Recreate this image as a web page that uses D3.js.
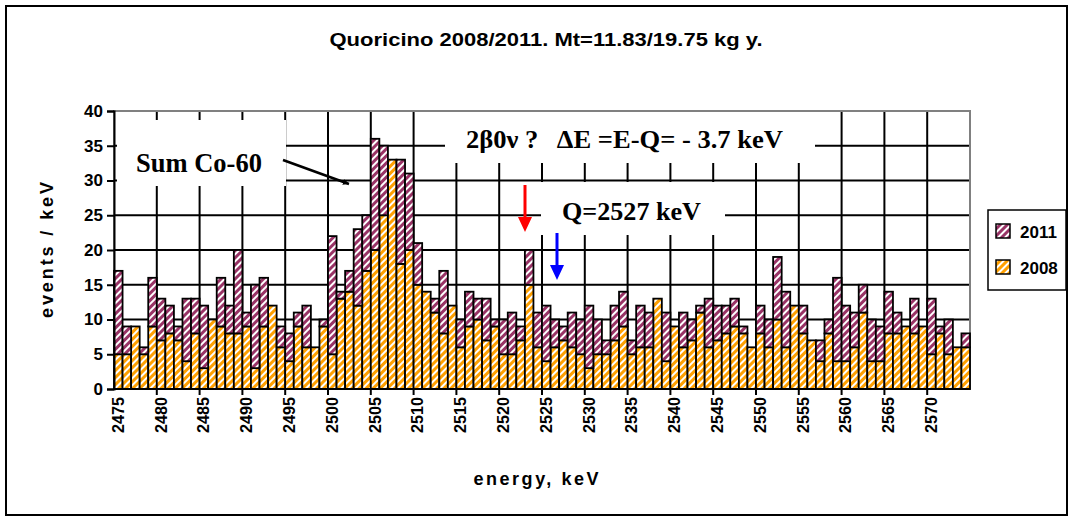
<!DOCTYPE html>
<html>
<head>
<meta charset="utf-8">
<script src="https://cdn.jsdelivr.net/npm/d3@7"></script>
<style>
  body { margin: 0; background: #fff; }
  svg { display: block; }
  .axis-label { font-family: "Liberation Sans", Arial, sans-serif; font-weight: bold; }
  .note { font-family: "Liberation Serif", "Times New Roman", serif; font-weight: bold; }
</style>
</head>
<body>
<svg width="1074" height="520"></svg>
<script>
// dados (contagens por keV)
const energies = d3.range(2475, 2575);
const counts2008 = [
  5, 5, 9, 5, 9, 7, 8, 7, 4, 8, 3, 10, 9, 8, 8, 9, 3, 9, 12, 6,
  4, 9, 6, 6, 9, 5, 13, 14, 12, 17, 20, 25, 33, 18, 20, 15, 14, 11, 8, 12,
  6, 9, 10, 7, 9, 5, 5, 7, 15, 6, 4, 6, 7, 6, 5, 3, 5, 5, 7, 9,
  5, 6, 6, 13, 4, 9, 6, 7, 11, 6, 7, 8, 9, 8, 6, 8, 6, 10, 6, 12,
  8, 7, 4, 8, 4, 4, 6, 11, 4, 4, 8, 8, 9, 8, 9, 5, 8, 5, 6, 6
];
const totals = [
  17, 9, 9, 6, 16, 13, 12, 9, 13, 13, 12, 10, 16, 12, 20, 11, 15, 16, 12, 9,
  8, 11, 12, 6, 10, 22, 14, 17, 23, 25, 36, 35, 33, 33, 31, 21, 14, 13, 17, 12,
  10, 14, 13, 13, 10, 10, 11, 9, 20, 11, 12, 10, 9, 11, 10, 12, 10, 7, 12, 14,
  7, 12, 11, 13, 11, 9, 11, 10, 12, 13, 12, 12, 13, 9, 6, 12, 10, 19, 14, 12,
  12, 7, 7, 10, 16, 12, 11, 15, 10, 9, 14, 11, 9, 13, 9, 13, 9, 10, 6, 8
];
const counts2011 = totals.map((t, i) => t - counts2008[i]);
const yTicks = [0, 5, 10, 15, 20, 25, 30, 35, 40];
const seriesKeys = ["2008", "2011"];
const legendKeys = ["2011", "2008"];

const svg = d3.select("svg");
const plot = { left: 114, right: 970, top: 111, bottom: 389 };

// padrões hachurados (estilo excel)
const defs = svg.append("defs");
function hatch(id, color) {
  const p = defs.append("pattern")
    .attr("id", id)
    .attr("patternUnits", "userSpaceOnUse")
    .attr("width", 5)
    .attr("height", 5)
    .attr("patternTransform", "rotate(45)");
  p.append("rect").attr("width", 5).attr("height", 5).attr("fill", color);
  p.append("rect").attr("x", 0).attr("width", 2).attr("height", 5).attr("fill", "#fff");
}
hatch("h2008", "#ffa000");
hatch("h2011", "#993366");
const fills = { "2008": "url(#h2008)", "2011": "url(#h2011)" };

defs.append("marker")
  .attr("id", "arrowBlack")
  .attr("viewBox", "0 -5 10 10")
  .attr("refX", 10).attr("refY", 0)
  .attr("markerWidth", 6).attr("markerHeight", 6)
  .attr("markerUnits", "userSpaceOnUse")
  .attr("orient", "auto")
  .append("path").attr("d", "M0,-5L10,0L0,5Z").attr("fill", "#000");

// moldura externa
svg.append("rect")
  .attr("x", 6).attr("y", 6).attr("width", 1061).attr("height", 509)
  .attr("fill", "none").attr("stroke", "#000").attr("stroke-width", 2);

// escalas
const x = d3.scaleBand().domain(energies).range([plot.left, plot.right]).padding(0);
const y = d3.scaleLinear().domain([0, 40]).range([plot.bottom, plot.top]);

// linhas de grade horizontais
svg.append("g").selectAll("line")
  .data(yTicks.filter(d => d > 0 && d < 40))
  .enter().append("line")
  .attr("x1", plot.left).attr("x2", plot.right)
  .attr("y1", d => y(d)).attr("y2", d => y(d))
  .attr("stroke", "#000").attr("stroke-width", 2);

// linhas de grade verticais a cada 5 categorias
const gridCats = energies.filter((e, i) => i > 0 && i % 5 === 0);
svg.append("g").selectAll("line")
  .data(gridCats)
  .enter().append("line")
  .attr("x1", d => x(d)).attr("x2", d => x(d))
  .attr("y1", plot.top).attr("y2", plot.bottom + 6)
  .attr("stroke", "#000").attr("stroke-width", 2);

// borda da área do gráfico
svg.append("rect")
  .attr("x", plot.left).attr("y", plot.top)
  .attr("width", plot.right - plot.left).attr("height", plot.bottom - plot.top)
  .attr("fill", "none").attr("stroke", "#808080").attr("stroke-width", 2);

// barras empilhadas
const table = energies.map((e, i) => ({ energy: e, "2008": counts2008[i], "2011": counts2011[i] }));
const stacked = d3.stack().keys(seriesKeys)(table);
svg.append("g").selectAll("g")
  .data(stacked)
  .enter().append("g")
  .attr("fill", d => fills[d.key])
  .selectAll("rect")
  .data(d => d.filter(s => s[1] > s[0]))
  .enter().append("rect")
  .attr("x", d => x(d.data.energy))
  .attr("y", d => y(d[1]))
  .attr("width", x.bandwidth())
  .attr("height", d => y(d[0]) - y(d[1]))
  .attr("stroke", "#000")
  .attr("stroke-width", 1.8);

// eixos
const yAxis = svg.append("g")
  .attr("transform", `translate(${plot.left},0)`)
  .call(d3.axisLeft(y).tickValues(yTicks).tickSize(7).tickPadding(4));
yAxis.select(".domain").attr("stroke", "#000").attr("stroke-width", 2);
yAxis.selectAll(".tick line").attr("stroke", "#000").attr("stroke-width", 2);
yAxis.selectAll("text")
  .attr("class", "axis-label")
  .attr("font-size", 17).attr("fill", "#000");

svg.append("line")
  .attr("x1", plot.left).attr("x2", plot.right)
  .attr("y1", plot.bottom).attr("y2", plot.bottom)
  .attr("stroke", "#000").attr("stroke-width", 2);

svg.append("g").selectAll("text")
  .data(energies.filter((e, i) => i % 5 === 0))
  .enter().append("text")
  .attr("class", "axis-label")
  .attr("font-size", 16)
  .attr("text-anchor", "end")
  .attr("textLength", 36)
  .attr("lengthAdjust", "spacingAndGlyphs")
  .attr("transform", d => `translate(${x(d) + x.bandwidth() / 2 + 5.5},${plot.bottom + 8}) rotate(-90)`)
  .text(d => d);

svg.append("text")
  .attr("class", "axis-label")
  .attr("font-size", 18)
  .attr("text-anchor", "middle")
  .attr("textLength", 136)
  .attr("lengthAdjust", "spacing")
  .attr("transform", `translate(53,${(plot.top + plot.bottom) / 2}) rotate(-90)`)
  .text("events / keV");

svg.append("text")
  .attr("class", "axis-label")
  .attr("font-size", 18)
  .attr("text-anchor", "middle")
  .attr("textLength", 125)
  .attr("lengthAdjust", "spacing")
  .attr("x", 536).attr("y", 485)
  .text("energy, keV");

// título
svg.append("text")
  .attr("class", "axis-label")
  .attr("font-size", 19)
  .attr("text-anchor", "middle")
  .attr("textLength", 433)
  .attr("lengthAdjust", "spacingAndGlyphs")
  .attr("x", 546).attr("y", 46)
  .text("Quoricino 2008/2011. Mt=11.83/19.75 kg y.");

// legenda
const legend = svg.append("g");
legend.append("rect")
  .attr("x", 988).attr("y", 210).attr("width", 78).attr("height", 80)
  .attr("fill", "#fff").attr("stroke", "#000").attr("stroke-width", 1.5);
const legItems = legend.selectAll("g")
  .data(legendKeys)
  .enter().append("g")
  .attr("transform", (d, i) => `translate(996,${224 + i * 36})`);
legItems.append("rect")
  .attr("width", 14).attr("height", 14)
  .attr("fill", d => fills[d]).attr("stroke", "#000").attr("stroke-width", 1.5);
legItems.append("text")
  .attr("class", "axis-label")
  .attr("font-size", 17)
  .attr("x", 24).attr("y", 14)
  .text(d => d);

// anotações
svg.append("rect").attr("x", 117).attr("y", 120).attr("width", 169).attr("height", 66).attr("fill", "#fff");
svg.append("text").attr("class", "note").attr("font-size", 26.5)
  .attr("x", 136).attr("y", 172).text("Sum Co-60");
svg.append("line")
  .attr("x1", 283).attr("y1", 160).attr("x2", 349).attr("y2", 184)
  .attr("stroke", "#000").attr("stroke-width", 2.5)
  .attr("marker-end", "url(#arrowBlack)");

svg.append("rect").attr("x", 445).attr("y", 112).attr("width", 370).attr("height", 51).attr("fill", "#fff");
svg.append("text").attr("class", "note").attr("font-size", 25)
  .attr("x", 466).attr("y", 148)
  .attr("xml:space", "preserve")
  .attr("textLength", 317)
  .attr("lengthAdjust", "spacingAndGlyphs")
  .text("2\u03b20\u03bd ?   \u0394E =E-Q= - 3.7 keV");

svg.append("rect").attr("x", 541).attr("y", 182).attr("width", 184).attr("height", 53).attr("fill", "#fff");
svg.append("text").attr("class", "note").attr("font-size", 26)
  .attr("x", 562).attr("y", 220)
  .attr("textLength", 139)
  .attr("lengthAdjust", "spacingAndGlyphs")
  .text("Q=2527 keV");

// setas vermelha e azul
function downArrow(cx, y0, y1, color) {
  svg.append("line")
    .attr("x1", cx).attr("x2", cx).attr("y1", y0).attr("y2", y1 - 14)
    .attr("stroke", color).attr("stroke-width", 3);
  svg.append("path")
    .attr("d", `M${cx - 7},${y1 - 15}L${cx + 7},${y1 - 15}L${cx},${y1}Z`)
    .attr("fill", color);
}
downArrow(525, 185, 232, "#ff0000");
downArrow(557, 233, 280, "#0000ff");
</script>
</body>
</html>
